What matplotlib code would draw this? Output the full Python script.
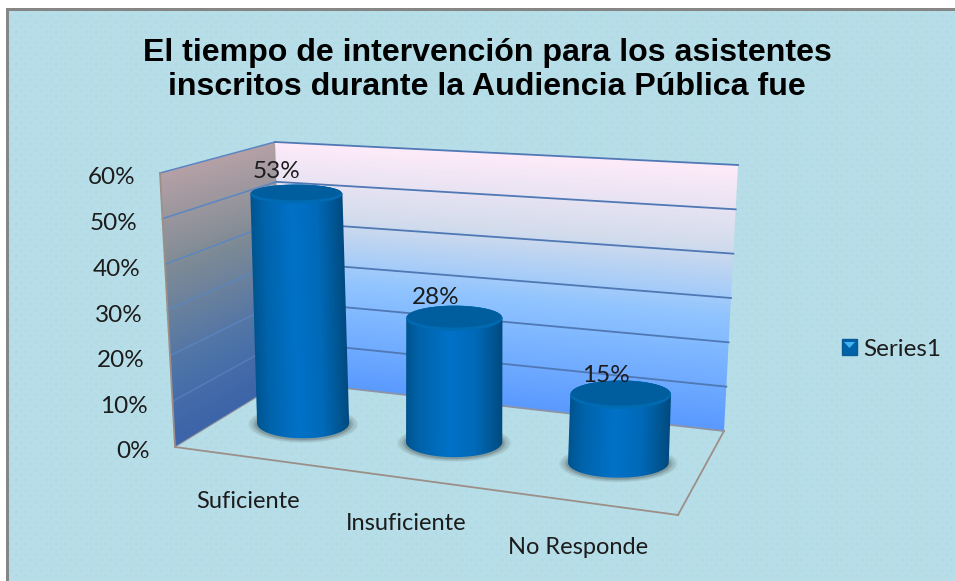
import numpy as np
import matplotlib
matplotlib.use("Agg")
import matplotlib.pyplot as plt
from matplotlib.colors import LinearSegmentedColormap, to_rgb
from matplotlib.patches import Patch, Polygon

TITLE = "El tiempo de intervención para los asistentes\ninscritos durante la Audiencia Pública fue"
CATEGORIES = ["Suficiente", "Insuficiente", "No Responde"]
VALUES = [53, 28, 15]
VALUE_LABELS = ["53%", "28%", "15%"]
TICKS = [0, 10, 20, 30, 40, 50, 60]
TICK_LABELS = ["0%", "10%", "20%", "30%", "40%", "50%", "60%"]
SERIES_NAME = "Series1"

W, H = 955, 581
VMAX = 60.0
CAT_U = [0.157, 0.477, 0.825]  # cylinder positions along the floor

# corners of the 3D box in image pixels (floor and 60% level)
FLOOR = {"fl": (175, 447), "fr": (678, 515), "bl": (283, 381), "br": (724, 431)}
TOP = {"fl": (160, 173), "fr": (691, 230), "bl": (275, 142), "br": (738, 165)}

LABEL_FONT = ["Lato", "DejaVu Sans"]
TEXT_COL = "#1c1c1c"
BG = "#b7dee8"


def project(u, d, v):
    """category pos u (0-1), depth d (0 front, 1 back), value v -> pixel xy"""
    t = v / VMAX
    out = []
    for i in (0, 1):
        low = ((1 - u) * (1 - d) * FLOOR["fl"][i] + u * (1 - d) * FLOOR["fr"][i]
               + (1 - u) * d * FLOOR["bl"][i] + u * d * FLOOR["br"][i])
        high = ((1 - u) * (1 - d) * TOP["fl"][i] + u * (1 - d) * TOP["fr"][i]
                + (1 - u) * d * TOP["bl"][i] + u * d * TOP["br"][i])
        out.append(low + (high - low) * t)
    return out[0], out[1]


def grad(name, stops):
    return LinearSegmentedColormap.from_list(name, stops)


def clipped_image(ax, t, x0, x1, y0, y1, cmap, clip_xy, z):
    im = ax.imshow(t, extent=(x0, x1, y1, y0), cmap=cmap, vmin=0, vmax=1,
                   aspect="auto", zorder=z, interpolation="bilinear")
    clip = Polygon(clip_xy, closed=True, transform=ax.transData)
    im.set_clip_path(clip)


def wall(ax, a_top, b_top, a_bot, b_bot, cmap, z):
    """gradient from the top edge to the bottom edge of a slanted wall"""
    xs = [a_top[0], b_top[0], a_bot[0], b_bot[0]]
    ys = [a_top[1], b_top[1], a_bot[1], b_bot[1]]
    x0, x1, y0, y1 = int(min(xs)), int(max(xs)) + 1, int(min(ys)), int(max(ys)) + 1
    X, Y = np.meshgrid(np.arange(x0, x1) + 0.5, np.arange(y0, y1) + 0.5)
    f = (X - a_top[0]) / (b_top[0] - a_top[0])
    ytop = a_top[1] + f * (b_top[1] - a_top[1])
    ybot = a_bot[1] + f * (b_bot[1] - a_bot[1])
    t = np.clip((Y - ytop) / (ybot - ytop), 0, 1)
    clipped_image(ax, t, x0, x1, y0, y1, cmap, [a_top, b_top, b_bot, a_bot], z)


def ellipse(cx, cy, rx, ry, a=0.0, b=2 * np.pi, n=120):
    th = np.linspace(a, b, n)
    return np.column_stack([cx + rx * np.cos(th), cy + ry * np.sin(th)])


fig = plt.figure(figsize=(W / 100, H / 100), dpi=100, facecolor="white")
ax = fig.add_axes([0, 0, 1, 1])
ax.set_autoscale_on(False)
ax.set_xlim(0, W)
ax.set_ylim(H, 0)
ax.axis("off")

# dotted chart area
base = np.array(to_rgb(BG))
dots = np.array(to_rgb("#acdbe1"))
bg = np.ones((H, W, 3)) * base
for k in range(2, 110):
    row = int(k * 5.33)
    if row >= H - 1:
        break
    shift = 0 if k % 2 else 5
    cols = (np.arange(W) + shift) % 10 < 2
    bg[row:row + 2, cols] = dots
border = np.array(to_rgb("#868686"))
bg[:11, :] = border
bg[:, :9] = border
bg[:8, :] = 1.0
bg[:, :6] = 1.0
ax.imshow(bg, extent=(0, W, H, 0), aspect="auto", zorder=0, interpolation="bilinear")

# walls
back_cmap = grad("back", [(0, "#ffebfa"), (0.3, "#d3dcec"), (0.58, "#8fc4ff"), (1, "#5a9aff")])
side_cmap = grad("side", [(0, "#b5a1a6"), (0.35, "#7f8b95"), (0.75, "#4d73a8"), (1, "#3d65a9")])
wall(ax, TOP["bl"], TOP["br"], FLOOR["bl"], FLOOR["br"], back_cmap, 1)
wall(ax, TOP["fl"], TOP["bl"], FLOOR["fl"], FLOOR["bl"], side_cmap, 1)

# gridlines on both walls
for v in TICKS:
    a, b, c = project(0, 0, v), project(0, 1, v), project(1, 1, v)
    col = "#5a86c4" if v else "#9b8f88"
    ax.plot([a[0], b[0]], [a[1], b[1]], color=col, lw=1.1, alpha=min(1, 0.55 + v / 100), zorder=2)
    ax.plot([b[0], c[0]], [b[1], c[1]], color="#4f78b4" if v else "#8c93a8", lw=1.3, zorder=2)

# floor outline and the wall's outer edge
edge = "#9b8f88"
for p, q in [(FLOOR["fl"], FLOOR["fr"]), (FLOOR["fr"], FLOOR["br"]), (TOP["fl"], FLOOR["fl"])]:
    ax.plot([p[0], q[0]], [p[1], q[1]], color=edge, lw=1.3, zorder=2)

# cylinders
body_cmap = grad("body", [(0, "#00548f"), (0.14, "#0063ab"), (0.45, "#0072c8"),
                          (0.72, "#0069b8"), (0.92, "#00548f"), (1, "#004a80")])
for i, (u, val) in enumerate(zip(CAT_U, VALUES)):
    bx, by = project(u, 0.5, 0)
    tx, ty = project(u, 0.5, val)
    rx = 45 + 6.5 * u
    ry_b = 15.0
    ry_t = 16.0 - 0.1225 * val
    z = 3 + i

    # soft shadow on the floor
    for grow, alpha in [(9, 0.10), (7, 0.16), (4, 0.22), (2, 0.30)]:
        ax.fill(*ellipse(bx, by + 1, rx + grow, ry_b + grow * 0.4).T,
                color="#5d6b6b", alpha=alpha, lw=0, zorder=z)

    outline = np.vstack([ellipse(bx, by, rx, ry_b, 0, np.pi),
                         ellipse(tx, ty, rx, ry_t, np.pi, 2 * np.pi)])
    x0, x1 = int(min(bx, tx) - rx - 2), int(max(bx, tx) + rx + 3)
    y0, y1 = int(ty - ry_t - 2), int(by + ry_b + 3)
    X, Y = np.meshgrid(np.arange(x0, x1) + 0.5, np.arange(y0, y1) + 0.5)
    cx = tx + (Y - ty) / (by - ty) * (bx - tx)
    t = np.clip((X - (cx - rx)) / (2 * rx), 0, 1)
    clipped_image(ax, t, x0, x1, y0, y1, body_cmap, outline, z)

    # top cap: lighter rim around a darker face
    ax.fill(*ellipse(tx, ty, rx, ry_t).T, color="#006ab2", lw=0, zorder=z + 0.1)
    ax.fill(*ellipse(tx, ty - 1.5, rx - 1, ry_t - 1.8).T, color="#005e9f", lw=0, zorder=z + 0.2)

# tick labels
for v, lab in zip(TICKS, TICK_LABELS):
    x, y = project(0, 0, v)
    ax.text(x - 25, y + 5, lab, ha="right", va="center", fontsize=17.5,
            family=LABEL_FONT, color=TEXT_COL, zorder=8)

# category labels
for u, lab in zip(CAT_U, CATEGORIES):
    x, y = project(u, 0, 0)
    ax.text(x - 5 - 8.5 * u, y + 44, lab, ha="center", va="center", fontsize=17,
            family=LABEL_FONT, color=TEXT_COL, zorder=8)

# value labels
LABEL_OFFSET = [(-20, -23), (-19, -21), (-15, -19)]
for u, val, lab, off in zip(CAT_U, VALUES, VALUE_LABELS, LABEL_OFFSET):
    x, y = project(u, 0.5, val)
    ax.text(x + off[0], y + off[1], lab, ha="center", va="center", fontsize=17.5,
            family=LABEL_FONT, color=TEXT_COL, zorder=8)

ax.text(487, 70, TITLE, ha="center", va="center", fontsize=23.1, fontweight="bold",
        family="Liberation Sans", color="black", linespacing=1.17, zorder=8)

# legend
leg = ax.legend(handles=[Patch(facecolor="#0062a8", edgecolor="#0a5a96", label=SERIES_NAME)],
                loc="center left", bbox_to_anchor=(842, 349), bbox_transform=ax.transData,
                frameon=False, handlelength=0.62, handleheight=0.62, handletextpad=0.26,
                borderaxespad=0, borderpad=0,
                prop={"family": LABEL_FONT, "size": 17.5}, labelcolor=TEXT_COL)
leg.set_zorder(8)
ax.fill([844, 855, 849.5], [342, 342, 348], color="#45b4ee", lw=0, zorder=9)

fig.savefig("out.png", dpi=100)
